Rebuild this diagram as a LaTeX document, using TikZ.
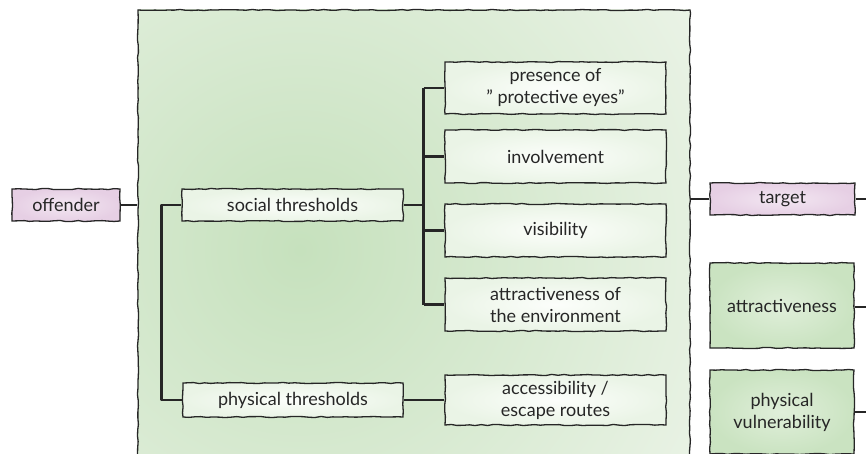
\documentclass[tikz,border=0pt]{standalone}
\usepackage{fontspec}
\setmainfont{Lato}
\usetikzlibrary{decorations.pathmorphing}
\definecolor{framein}{HTML}{C6E1BD}
\definecolor{frameout}{HTML}{EAF3E6}
\definecolor{boxin}{HTML}{FCFEFB}
\definecolor{boxout}{HTML}{EAF4E6}
\definecolor{pinkin}{HTML}{F3E7F2}
\definecolor{pinkout}{HTML}{E6CFE4}
\definecolor{grnin}{HTML}{E0EFDA}
\definecolor{grnout}{HTML}{CAE3C1}
\definecolor{ink}{HTML}{262626}
\tikzset{
  sketch/.style={decorate, decoration={random steps, segment length=6pt, amplitude=0.6pt}},
  base/.style={draw=ink, line width=1.3pt, sketch, text=ink, font=\fontsize{18}{22}\selectfont, align=center, inner sep=0pt},
  wbox/.style={base, shade, inner color=boxin, outer color=boxout},
  pbox/.style={base, shade, inner color=pinkin, outer color=pinkout},
  gbox/.style={base, shade, inner color=grnin, outer color=grnout},
  conn/.style={draw=ink, line width=2.4pt, line join=round},
}
\begin{document}
\begin{tikzpicture}[x=1pt,y=-1pt]
\pgfmathsetseed{7}
\useasboundingbox (0,0) rectangle (866,454);
\clip (0,0) rectangle (866,454);
% big frame
\begin{scope}
  \clip (138,10) rectangle (690,470);
  \shade[inner color=framein, outer color=frameout] (300,250) circle (460);
\end{scope}
\node[draw=ink, line width=1.3pt, sketch, minimum width=552pt, minimum height=460pt, inner sep=0pt] (frame) at (414,240) {};
% nodes
\node[pbox, minimum width=108pt, minimum height=32pt] (offender) at (66,205) {offender};
\node[wbox, minimum width=221pt, minimum height=32pt] (social) at (292.5,205) {social thresholds};
\node[wbox, minimum width=220pt, minimum height=34pt] (physical) at (293,400) {physical thresholds};
\node[wbox, minimum width=221pt, minimum height=52pt] (presence) at (555.5,88) {presence of\\" protective eyes"};
\node[wbox, minimum width=221pt, minimum height=53pt] (involve) at (555.5,156.5) {involvement};
\node[wbox, minimum width=221pt, minimum height=53pt] (visib) at (555.5,230.5) {visibility};
\node[wbox, minimum width=221pt, minimum height=53pt] (attrenv) at (555.5,304.5) {attractiveness of\\the environment};
\node[wbox, minimum width=221pt, minimum height=50pt] (access) at (555.5,400) {accessibility /\\escape routes};
\node[pbox, minimum width=145pt, minimum height=32pt] (target) at (782.5,199) {target};
\node[gbox, minimum width=144pt, minimum height=85pt] (attract) at (782,305.5) {attractiveness};
\node[gbox, minimum width=144pt, minimum height=84pt] (vuln) at (782,412) {physical\\vulnerability};
% connectors
\draw[conn] (offender.east) -- (frame.west |- offender.east);
\draw[conn] (social.west) -- ++(-20,0) |- (physical.west);
\draw[conn] (physical.east) -- (access.west);
\draw[conn] (social.east) -- ++(20,0) coordinate (j);
\draw[conn] (j |- presence.west) -- (j |- attrenv.west);
\foreach \b in {presence,involve,visib,attrenv}
  \draw[conn] (j |- \b.west) -- (\b.west);
\draw[conn] (frame.east |- target.west) -- (target.west);
\coordinate (rt) at (866,199);
\coordinate (ra) at (866,307);
\coordinate (rv) at (866,412);
\draw[conn] (target.east) -- (rt);
\draw[conn] (attract.east |- ra) -- (ra);
\draw[conn] (vuln.east) -- (rv);
\end{tikzpicture}
\end{document}
